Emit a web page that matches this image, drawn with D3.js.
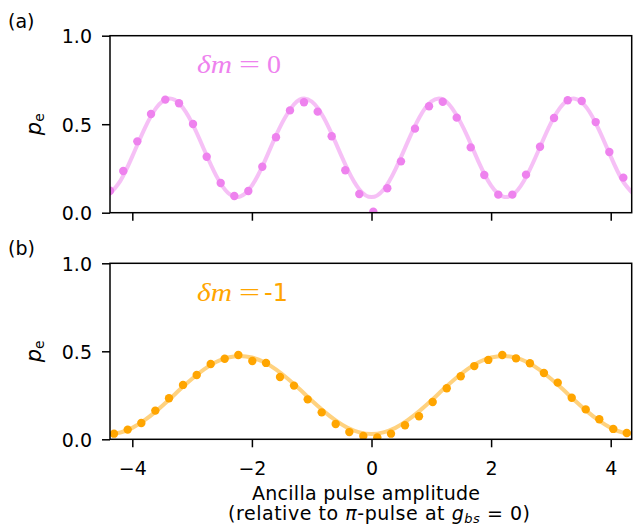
<!DOCTYPE html>
<html>
<head>
<meta charset="utf-8">
<script src="https://cdn.jsdelivr.net/npm/d3@7"></script>
<style>
  html, body { margin: 0; padding: 0; background: #fff; }
  svg { display: block; font-family: "DejaVu Sans", sans-serif; }
</style>
</head>
<body>
<svg id="chart" width="633" height="525"></svg>
<script>
// ---------- data ----------
const xTicks = [-4, -2, 0, 2, 4];
const yTicks = [0.0, 0.5, 1.0];
const yTickLabels = ["0.0", "0.5", "1.0"];

// panel (a): delta m = 0
const xA = [-4.373, -4.151, -3.916, -3.687, -3.448, -3.219, -2.985, -2.756, -2.522, -2.294,
            -2.060, -1.826, -1.597, -1.363, -1.129, -0.900, -0.666, -0.438, -0.204, 0.030,
            0.264, 0.493, 0.727, 0.962, 1.191, 1.425, 1.659, 1.886, 2.120, 2.355,
            2.584, 2.818, 3.052, 3.281, 3.515, 3.749, 3.977, 4.211];
const pA = [0.124, 0.236, 0.403, 0.558, 0.639, 0.618, 0.501, 0.316, 0.168, 0.094,
            0.123, 0.260, 0.426, 0.578, 0.624, 0.571, 0.432, 0.240, 0.106, 0.006,
            0.138, 0.290, 0.475, 0.601, 0.627, 0.537, 0.369, 0.213, 0.102, 0.102,
            0.215, 0.373, 0.535, 0.635, 0.631, 0.512, 0.343, 0.198];

// panel (b): delta m = -1
const xB = [-4.306, -4.077, -3.849, -3.615, -3.386, -3.152, -2.923, -2.689, -2.455, -2.227,
            -1.993, -1.764, -1.530, -1.296, -1.067, -0.833, -0.599, -0.371, -0.137, 0.097,
            0.326, 0.560, 0.794, 1.023, 1.258, 1.492, 1.719, 1.953, 2.187, 2.416,
            2.649, 2.883, 3.114, 3.348, 3.582, 3.809, 4.043, 4.268];
const pB = [0.032, 0.055, 0.093, 0.163, 0.233, 0.309, 0.365, 0.428, 0.458, 0.479,
            0.445, 0.434, 0.354, 0.305, 0.227, 0.153, 0.087, 0.041, 0.019, 0.011,
            0.032, 0.080, 0.131, 0.212, 0.290, 0.358, 0.416, 0.451, 0.479, 0.460,
            0.432, 0.377, 0.322, 0.236, 0.170, 0.114, 0.059, 0.036];

// fitted curves
const fitX = [-4.4, -4.2, -4.0, -3.8, -3.6, -3.4, -3.2, -3.0, -2.8, -2.6, -2.4, -2.2, -2.0,
              -1.8, -1.6, -1.4, -1.2, -1.0, -0.8, -0.6, -0.4, -0.2, 0.0, 0.2, 0.4, 0.6,
              0.8, 1.0, 1.2, 1.4, 1.6, 1.8, 2.0, 2.2, 2.4, 2.6, 2.8, 3.0, 3.2, 3.4, 3.6,
              3.8, 4.0, 4.2, 4.4];
const fitA = [0.099, 0.180, 0.318, 0.471, 0.592, 0.644, 0.612, 0.506, 0.357, 0.211, 0.112, 0.091, 0.153,
              0.280, 0.434, 0.563, 0.639, 0.628, 0.538, 0.396, 0.245, 0.130, 0.088, 0.130, 0.245, 0.396,
              0.538, 0.628, 0.639, 0.563, 0.434, 0.280, 0.153, 0.091, 0.112, 0.211, 0.357, 0.506, 0.612, 0.644, 0.592,
              0.471, 0.318, 0.180, 0.099];
const fitB = [0.030, 0.039, 0.065, 0.107, 0.160, 0.220, 0.284, 0.344, 0.397, 0.439, 0.465, 0.474, 0.465,
              0.439, 0.397, 0.344, 0.284, 0.220, 0.160, 0.107, 0.065, 0.039, 0.030, 0.039, 0.065, 0.107,
              0.160, 0.220, 0.284, 0.344, 0.397, 0.439, 0.465, 0.474, 0.465, 0.439, 0.397, 0.344, 0.284, 0.220, 0.160,
              0.107, 0.065, 0.039, 0.030];

// ---------- layout ----------
const svg = d3.select("#chart");
const L = 110, R = 631.7;
const x = d3.scaleLinear().domain([-4.373, 4.351]).range([L, R]);

const panels = [
  { id: "a", label: "(a)", top: 35.7, bottom: 212.7, xs: xA, ys: pA, fit: fitA,
    color: "#ee82ee", showX: false, ann: "0", annSans: false },
  { id: "b", label: "(b)", top: 263.3, bottom: 439.3, xs: xB, ys: pB, fit: fitB,
    color: "#ffa500", showX: true, ann: "-1", annSans: true }
];

panels.forEach(p => {
  const y = d3.scaleLinear().domain([0, 1]).range([p.bottom, p.top]);
  const g = svg.append("g");

  g.append("clipPath").attr("id", "clip-" + p.id)
    .append("rect").attr("x", L).attr("y", p.top).attr("width", R - L).attr("height", p.bottom - p.top);

  const plot = g.append("g").attr("clip-path", `url(#clip-${p.id})`);
  const line = d3.line().x((d, i) => x(fitX[i])).y(d => y(d)).curve(d3.curveNatural);
  plot.append("path").datum(p.fit).attr("d", line)
    .attr("fill", "none").attr("stroke", p.color).attr("stroke-opacity", 0.5)
    .attr("stroke-width", 4);
  plot.selectAll("circle").data(p.ys).join("circle")
    .attr("cx", (d, i) => x(p.xs[i])).attr("cy", d => y(d)).attr("r", 4.2)
    .attr("fill", p.color);

  // y axis
  const ya = g.append("g").attr("transform", `translate(${L},0)`)
    .call(d3.axisLeft(y).tickValues(yTicks).tickSize(8).tickFormat((d, i) => yTickLabels[i]));
  ya.select(".domain").remove();
  ya.selectAll(".tick line").attr("stroke", "#000").attr("stroke-width", 1.5);
  ya.selectAll(".tick text").attr("x", -18).attr("dy", "0.36em")
    .attr("font-size", 19).attr("font-family", "DejaVu Sans").attr("fill", "#000");

  // x axis
  const xa = g.append("g").attr("transform", `translate(0,${p.bottom})`)
    .call(d3.axisBottom(x).tickValues(xTicks).tickSize(8)
      .tickFormat(d => p.showX ? (d < 0 ? "\u2212" + Math.abs(d) : String(d)) : ""));
  xa.select(".domain").remove();
  xa.selectAll(".tick line").attr("stroke", "#000").attr("stroke-width", 1.5);
  xa.selectAll(".tick text").attr("y", 35.7).attr("dy", 0)
    .attr("font-size", 19).attr("font-family", "DejaVu Sans").attr("fill", "#000");

  // frame
  g.append("rect").attr("x", L).attr("y", p.top).attr("width", R - L).attr("height", p.bottom - p.top)
    .attr("fill", "none").attr("stroke", "#000").attr("stroke-width", 1.5);

  // y label p_e
  const cy = (p.top + p.bottom) / 2;
  const yl = g.append("text").attr("transform", `translate(41,${cy}) rotate(-90)`)
    .attr("text-anchor", "middle").attr("font-size", 21).attr("fill", "#000")
    .style("font-family", "DejaVu Sans");
  yl.append("tspan").style("font-style", "italic").text("p");
  yl.append("tspan").attr("font-size", 14).attr("dy", 3).text("e");

  // panel label
  g.append("text").attr("x", 8).attr("y", p.top - 8.2).attr("font-size", 19)
    .attr("fill", "#000").text(p.label);

  // annotation: delta m = value
  const by = p.top + 37.6;
  const serif = "'Liberation Serif', serif";
  g.append("text").attr("x", 197).attr("y", by).attr("font-size", 25).attr("fill", p.color)
    .style("font-family", serif).style("font-style", "italic")
    .attr("textLength", 35).attr("lengthAdjust", "spacingAndGlyphs").text("\u03b4m");
  g.append("text").attr("x", 239).attr("y", by).attr("font-size", 25).attr("fill", p.color)
    .style("font-family", serif)
    .attr("textLength", 21).attr("lengthAdjust", "spacingAndGlyphs").text("=");
  if (p.annSans) {
    g.append("text").attr("x", 264).attr("y", by).attr("font-size", 24).attr("fill", p.color)
      .style("font-family", "'DejaVu Sans', sans-serif").text(p.ann);
  } else {
    g.append("text").attr("x", 267).attr("y", by).attr("font-size", 25).attr("fill", p.color)
      .style("font-family", serif)
      .attr("textLength", 14).attr("lengthAdjust", "spacingAndGlyphs").text(p.ann);
  }
});

// x label
svg.append("text").attr("x", 252).attr("y", 500)
  .attr("font-size", 19).attr("fill", "#000")
  .attr("textLength", 228).attr("lengthAdjust", "spacing").text("Ancilla pulse amplitude");
const xl2 = svg.append("text").attr("x", 228).attr("y", 520)
  .attr("font-size", 19).attr("fill", "#000")
  .attr("textLength", 302).attr("lengthAdjust", "spacing");
xl2.append("tspan").text("(relative to ");
xl2.append("tspan").style("font-style", "italic").text("\u03c0");
xl2.append("tspan").text("-pulse at ");
xl2.append("tspan").style("font-style", "italic").text("g");
xl2.append("tspan").style("font-style", "italic").attr("font-size", 13).attr("dy", 3).text("bs");
xl2.append("tspan").attr("dy", -3).text(" = 0)");
</script>
</body>
</html>
